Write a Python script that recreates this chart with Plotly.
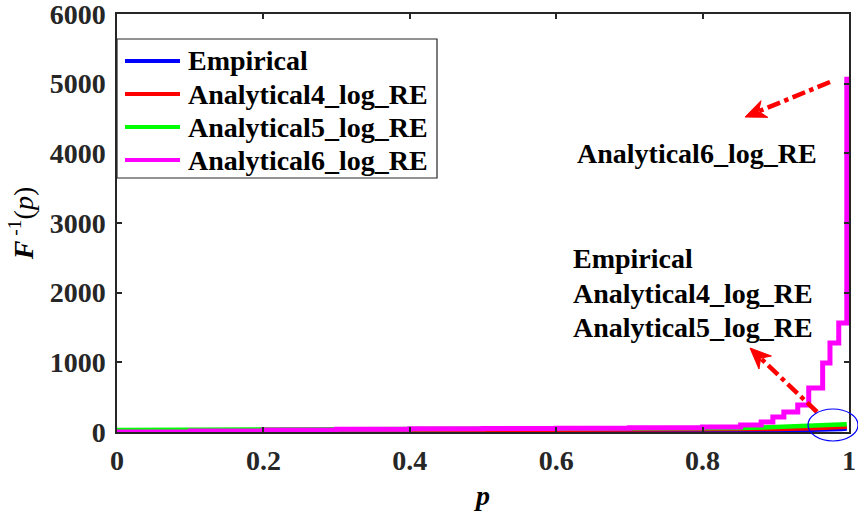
import plotly.graph_objects as go

# Series names and colours
series_names = ["Empirical", "Analytical4_log_RE", "Analytical5_log_RE", "Analytical6_log_RE"]
series_colors = ["#0000ff", "#ff0000", "#00ff00", "#ff00ff"]

# Quantile curves F^-1(p)
p_emp = [0.0, 0.2, 0.4, 0.6, 0.8, 0.9, 0.95, 0.99, 0.997]
q_emp = [0, 4, 8, 12, 18, 24, 30, 38, 45]

p_a4 = [0.0, 0.2, 0.4, 0.6, 0.8, 0.9, 0.95, 0.99, 0.997]
q_a4 = [5, 12, 17, 22, 30, 40, 50, 60, 70]

p_a5 = [0.0, 0.2, 0.4, 0.6, 0.8, 0.85, 0.9, 0.95, 0.99, 0.997]
q_a5 = [30, 33, 36, 40, 50, 58, 70, 88, 102, 110]

p_a6 = [0.0, 0.1, 0.2, 0.3, 0.4, 0.5, 0.6, 0.7, 0.8, 0.852, 0.880, 0.896,
        0.911, 0.930, 0.945, 0.964, 0.974, 0.986, 0.997]
q_a6 = [0, 15, 28, 38, 45, 50, 55, 62, 72, 100, 144, 215,
        287, 388, 632, 990, 1277, 1565, 5100]

x_ticks = [0, 0.2, 0.4, 0.6, 0.8, 1]
x_tick_text = ["0", "0.2", "0.4", "0.6", "0.8", "1"]
y_ticks = [0, 1000, 2000, 3000, 4000, 5000, 6000]

FONT = "Liberation Serif"
AXIS_COLOR = "#262626"
FS = 28

W, H = 858, 512
ML, MR, MT, MB = 117, 9, 14, 80
PW, PH = W - ML - MR, H - MT - MB
X_RANGE, Y_RANGE = (0, 1), (0, 6000)


def to_data(px, py):
    """Pixel position -> data coordinates of the single subplot."""
    x = X_RANGE[0] + (px - ML) / PW * (X_RANGE[1] - X_RANGE[0])
    y = Y_RANGE[0] + (H - MB - py) / PH * (Y_RANGE[1] - Y_RANGE[0])
    return x, y


def to_paper(px, py):
    return (px - ML) / PW, (H - MB - py) / PH


fig = go.Figure()
curves = [(p_emp, q_emp, "linear", 4), (p_a4, q_a4, "linear", 4),
          (p_a5, q_a5, "linear", 4.5), (p_a6, q_a6, "hv", 5)]
for (px, qy, shape, lw), name, color in zip(curves, series_names, series_colors):
    fig.add_trace(go.Scatter(
        x=px, y=qy, mode="lines", name=name,
        line=dict(color=color, width=lw, shape=shape),
        cliponaxis=False, showlegend=False,
    ))

axis_common = dict(
    showline=True, linecolor=AXIS_COLOR, linewidth=1.5, mirror="ticks",
    ticks="inside", ticklen=5, tickwidth=1.5, tickcolor=AXIS_COLOR,
    showgrid=False, zeroline=False, automargin=False,
    ticklabeloverflow="allow",
    tickfont=dict(family=FONT, size=FS, color=AXIS_COLOR, weight="bold"),
)

fig.update_layout(
    width=W, height=H,
    margin=dict(l=ML, r=MR, t=MT, b=MB),
    paper_bgcolor="white", plot_bgcolor="white",
    font=dict(family=FONT, size=FS, color="black"),
    xaxis=dict(range=list(X_RANGE), tickvals=x_ticks, ticktext=x_tick_text,
               ticklabelstandoff=3,
               title=dict(text="<b><i>p</i></b>", standoff=10,
                          font=dict(family=FONT, size=FS, color="black")),
               **axis_common),
    yaxis=dict(range=list(Y_RANGE), tickvals=y_ticks, ticklabelstandoff=4,
               title=dict(text="<b><i>F</i></b><sup> -1</sup>(<i>p</i>)", standoff=8,
                          font=dict(family=FONT, size=FS, color="black")),
               **axis_common),
    showlegend=False,
)

# Legend box drawn in the upper-left corner of the axes
bx0, by0 = to_paper(117, 178)
bx1, by1 = to_paper(437, 39)
fig.add_shape(type="rect", xref="paper", yref="paper", x0=bx0, y0=by0, x1=bx1, y1=by1,
              fillcolor="white", line=dict(color=AXIS_COLOR, width=1.2), layer="above")
text_font = dict(family=FONT, size=FS, color="black", weight="bold")
for i, (name, color) in enumerate(zip(series_names, series_colors)):
    row_y = 61 + i * 33
    lx0, ly = to_paper(125, row_y)
    lx1, _ = to_paper(180, row_y)
    fig.add_shape(type="line", xref="paper", yref="paper", x0=lx0, y0=ly, x1=lx1, y1=ly,
                  line=dict(color=color, width=4), layer="above")
    tx, ty = to_paper(186, row_y)
    fig.add_annotation(x=tx, y=ty, xref="paper", yref="paper", text=name,
                       showarrow=False, font=text_font, xanchor="left", yanchor="middle")

# Callout texts
cx, cy = to_data(697, 153)
fig.add_annotation(x=cx, y=cy, xref="x", yref="y", text=series_names[3],
                   showarrow=False, font=text_font, xanchor="center", yanchor="middle")
for name, row_y in zip(series_names[:3], [258, 293, 327]):
    tx, ty = to_data(571, row_y)
    fig.add_annotation(x=tx, y=ty, xref="x", yref="y", text=name,
                       showarrow=False, font=text_font, xanchor="left", yanchor="middle")

# Dash-dot pointer arrows with concave filled heads
arrow_px = [((830, 82), (745, 117)), ((817, 412), (750, 348))]
HEAD_L, HEAD_W, NOTCH = 21, 18, 0.7
for (tx0, ty0), (tx1, ty1) in arrow_px:
    dx, dy = tx1 - tx0, ty1 - ty0
    n = (dx * dx + dy * dy) ** 0.5
    ux, uy = dx / n, dy / n
    nx, ny = -uy, ux
    notch = (tx1 - NOTCH * HEAD_L * ux, ty1 - NOTCH * HEAD_L * uy)
    s = to_data(tx0, ty0)
    e = to_data(*notch)
    fig.add_shape(type="line", xref="x", yref="y", x0=s[0], y0=s[1], x1=e[0], y1=e[1],
                  line=dict(color="#ff0000", width=4.5, dash="dashdot"))
    pts = [(tx1, ty1),
           (tx1 - HEAD_L * ux + HEAD_W / 2 * nx, ty1 - HEAD_L * uy + HEAD_W / 2 * ny),
           notch,
           (tx1 - HEAD_L * ux - HEAD_W / 2 * nx, ty1 - HEAD_L * uy - HEAD_W / 2 * ny)]
    dpts = [to_data(*p) for p in pts]
    path = "M " + " L ".join(f"{x:.5f},{y:.3f}" for x, y in dpts) + " Z"
    fig.add_shape(type="path", xref="x", yref="y", path=path,
                  fillcolor="#ff0000", line=dict(color="#ff0000", width=1))

# Highlight ellipse around the upper tail
ex0, ey0 = to_paper(808, 441)
ex1, ey1 = to_paper(858, 409)
fig.add_shape(type="circle", xref="paper", yref="paper",
              x0=ex0, x1=ex1, y0=ey0, y1=ey1,
              line=dict(color="#0000ff", width=1.2))

fig.write_html("out.html")
